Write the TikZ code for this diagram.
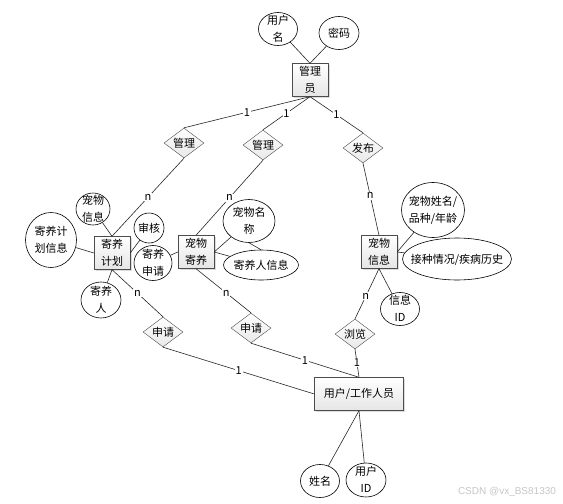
\documentclass[tikz,border=0pt]{standalone}
\usepackage{fontspec}
\setmainfont{Noto Sans CJK SC}
\newfontfamily\wmfont{Liberation Sans}
\usetikzlibrary{shapes.geometric, shadows}
% text of fixed-size ellipses and diamonds takes no room
\newcommand{\lbl}[1]{\raisebox{-3.5pt}[0pt][0pt]{\makebox[0pt]{\begin{tabular}{@{}c@{}}#1\end{tabular}}}}

\begin{document}
\begin{tikzpicture}[x=1pt, y=-1pt,
        font=\fontsize{11}{17}\selectfont,
        entity/.style={draw=gray!60!black, top color=white, bottom color=gray!20, drop shadow={shadow xshift=1.5pt, shadow yshift=-1.5pt, fill=gray!55}, minimum width=36pt, minimum height=33pt, inner sep=0pt, align=center},
        attr/.style={draw, ellipse, inner sep=0pt, line width=0.6pt},
        rel/.style={draw=gray!60!black, diamond, top color=white, bottom color=gray!18, minimum width=40pt, minimum height=30pt, inner sep=0pt},
        link/.style={draw=gray!30!black, line width=0.6pt},
        card/.style={fill=white, inner sep=0.8pt}
    ]
        \useasboundingbox (0,0) rectangle (563,504);

        % thực thể
        \node[entity] (mgr) at (310,80) {管理\\员};
        \node[entity] (plan) at (112,253) {寄养\\计划};
        \node[entity] (foster) at (196,252) {宠物\\寄养};
        \node[entity] (pet) at (379,252) {宠物\\信息};
        \node[entity, minimum width=89pt] (user) at (359,394) {用户/工作人员};

        % quan hệ
        \node[rel] (man1) at (184,143) {\lbl{管理}};
        \node[rel] (man2) at (263,145) {\lbl{管理}};
        \node[rel] (pub) at (363,148) {\lbl{发布}};
        \node[rel] (ap1) at (163,332) {\lbl{申请}};
        \node[rel] (ap2) at (251,328) {\lbl{申请}};
        \node[rel] (view) at (355,334) {\lbl{浏览}};

        % thuộc tính
        \node[attr, minimum width=39pt, minimum height=33pt] (uname) at (278,29) {\lbl{用户\\名}};
        \node[attr, minimum width=40pt, minimum height=33pt] (pwd) at (339,33) {\lbl{密码}};
        \node[attr, minimum width=34pt, minimum height=32pt] (petattr) at (93,209) {\lbl{宠物\\信息}};
        \node[attr, minimum width=51pt, minimum height=55pt] (planinfo) at (51,240) {\lbl{寄养计\\划信息}};
        \node[attr, minimum width=30pt, minimum height=30pt] (audit) at (149,228) {\lbl{审核}};
        \node[attr, minimum width=38pt, minimum height=35pt] (fapply) at (153,263) {\lbl{寄养\\申请}};
        \node[attr, minimum width=40pt, minimum height=36pt] (keeper) at (101,300) {\lbl{寄养\\人}};
        \node[attr, minimum width=52pt, minimum height=43pt] (pname) at (249,221) {\lbl{宠物名\\称}};
        \node[attr, minimum width=75pt, minimum height=30pt] (kinfo) at (261,265) {\lbl{寄养人信息}};
        \node[attr, minimum width=63pt, minimum height=55pt] (pbasic) at (433,210) {\lbl{宠物姓名/\\品种/年龄}};
        \node[attr, minimum width=109pt, minimum height=42pt] (health) at (457,259) {\lbl{接种情况/疾病历史}};
        \node[attr, minimum width=39pt, minimum height=33pt] (infoid) at (400,309) {\lbl{信息\\ID}};
        \node[attr, minimum width=39pt, minimum height=33pt] (sname) at (320,481) {\lbl{姓名}};
        \node[attr, minimum width=40pt, minimum height=34pt] (uid) at (366,480) {\lbl{用户\\ID}};

        % đường nối có bản số
        \draw[link] (mgr.south) -- node[card] {1} (man1.north);
        \draw[link] (mgr.south) -- node[card] {1} (man2.north);
        \draw[link] (mgr.south) -- node[card] {1} (pub.north);
        \draw[link] (man1.south) -- node[card] {n} (plan.north);
        \draw[link] (man2.south) -- node[card] {n} (foster.north);
        \draw[link] (pub.south) -- node[card, pos=.45] {n} (pet.north);
        \draw[link] (plan.south) -- node[card] {n} (ap1.north);
        \draw[link] (foster.south) -- node[card, pos=.55] {n} (ap2.north);
        \draw[link] (pet.south) -- node[card, pos=.55] {n} (view.north);
        \draw[link] (ap1.south) -- node[card] {1} (user.west);
        \draw[link] (ap2.south) -- node[card] {1} (user.north);
        \draw[link] (view.south) -- node[card, pos=.47] {1} (user.north);

        % đường nối thuộc tính
        \draw[link] (uname) -- (mgr.north);
        \draw[link] (pwd) -- (mgr.north);
        \draw[link] (petattr) -- (plan.north);
        \draw[link] (planinfo) -- (plan.west);
        \draw[link] (audit) -- (plan.east);
        \draw[link] (keeper) -- (plan.south);
        \draw[link] (fapply) -- (foster.west);
        \draw[link] (pname) -- (foster.east);
        \draw[link] (kinfo) -- (foster.east);
        \draw[link] (pname.south) -- (kinfo.north);
        \draw[link] (pbasic) -- (pet.east);
        \draw[link] (health) -- (pet.east);
        \draw[link] (infoid) -- (pet.south);
        \draw[link] (sname) -- (user.south);
        \draw[link] (uid) -- (user.south);

        \node[text=gray!45, font=\wmfont\fontsize{10}{12}\selectfont] (wm) at (507,492) {CSDN @vx\_BS81330};
    \end{tikzpicture}
\end{document}
